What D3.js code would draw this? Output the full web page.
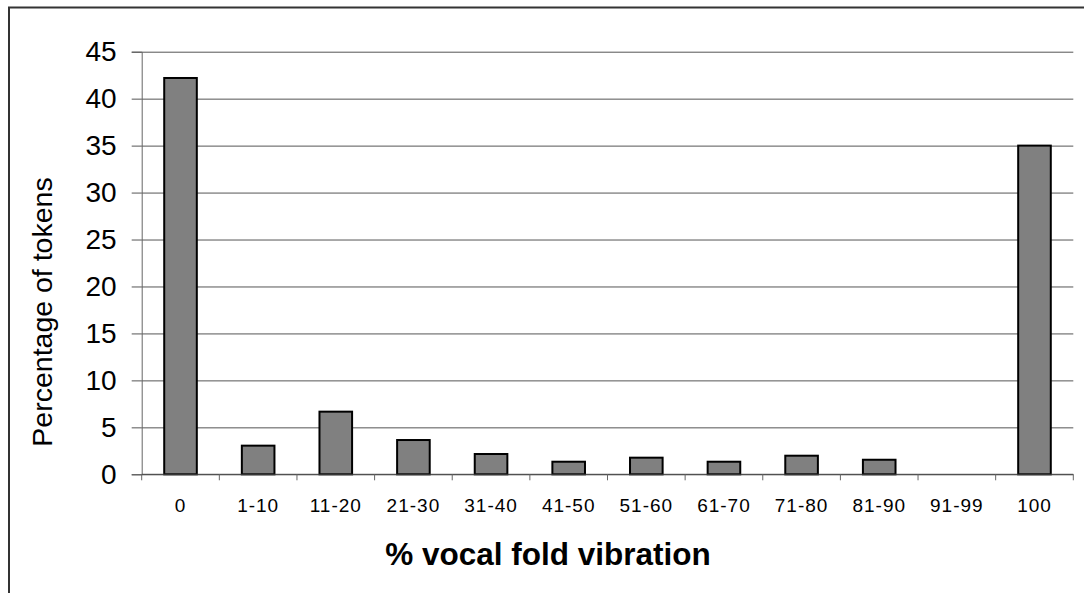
<!DOCTYPE html>
<html>
<head>
<meta charset="utf-8">
<script src="https://cdn.jsdelivr.net/npm/d3@7"></script>
<style>
  body { margin: 0; background: #fff; }
  svg { display: block; font-family: "Liberation Sans", Arial, sans-serif; }
</style>
</head>
<body>
<script>
// categories and values (percentage of tokens)
const categories = ['0', '1-10', '11-20', '21-30', '31-40', '41-50', '51-60', '61-70', '71-80', '81-90', '91-99', '100'];
const values = [42.2, 3.05, 6.67, 3.65, 2.16, 1.34, 1.77, 1.34, 1.98, 1.55, 0, 35];
const yTicks = [0, 5, 10, 15, 20, 25, 30, 35, 40, 45];

const width = 1084;
const height = 593;
const margin = ({top: 51.7, right: 10.7, bottom: 118.7, left: 141.7});

const svg = d3.select('body')
  .append('svg')
  .attr('width', width)
  .attr('height', height);

// outer chart border (runs off the right and bottom edge)
svg.append('rect')
  .attr('x', 9)
  .attr('y', 7.5)
  .attr('width', 1100)
  .attr('height', 620)
  .attr('fill', 'none')
  .attr('stroke', '#333')
  .attr('stroke-width', 2);

const xScale = d3.scaleBand()
  .domain(categories)
  .range([margin.left, width - margin.right]);

const yScale = d3.scaleLinear()
  .domain([0, 45])
  .range([height - margin.bottom, margin.top]);

// gridlines
svg.append('g')
  .attr('transform', `translate(${margin.left},0)`)
  .call(d3.axisLeft(yScale).tickValues(yTicks).tickSize(-(width - margin.right - margin.left)).tickFormat(''))
  .call(g => g.select('.domain').remove())
  .selectAll('line')
  .attr('stroke', '#555')
  .attr('stroke-width', 1);

// bars
const barW = xScale.bandwidth() * 0.42;
svg.append('g')
  .selectAll('rect')
  .data(values)
  .join('rect')
  .attr('x', (d, i) => xScale(categories[i]) + (xScale.bandwidth() - barW) / 2)
  .attr('y', d => yScale(d))
  .attr('width', barW)
  .attr('height', d => yScale(0) - yScale(d))
  .attr('fill', d => d > 0 ? '#808080' : 'none')
  .attr('stroke', d => d > 0 ? '#000' : 'none')
  .attr('stroke-width', 2);

// Y axis
svg.append('g')
  .attr('transform', `translate(${margin.left},0)`)
  .call(d3.axisLeft(yScale).tickValues(yTicks).tickSize(10).tickPadding(15))
  .call(g => g.select('.domain').attr('stroke', '#666'))
  .call(g => g.selectAll('.tick line').attr('stroke', '#555'))
  .selectAll('text')
  .attr('font-size', 28)
  .attr('font-family', '"Liberation Sans", Arial, sans-serif')
  .attr('fill', '#000');

// X axis: baseline, boundary ticks, category labels
const xAxisY = yScale(0);
svg.append('line')
  .attr('x1', margin.left).attr('x2', width - margin.right)
  .attr('y1', xAxisY).attr('y2', xAxisY)
  .attr('stroke', '#444');

const bounds = categories.map(c => xScale(c)).concat([width - margin.right]);
svg.append('g')
  .selectAll('line')
  .data(bounds)
  .join('line')
  .attr('x1', d => d).attr('x2', d => d)
  .attr('y1', xAxisY).attr('y2', xAxisY + 6)
  .attr('stroke', '#666');

svg.append('g')
  .attr('transform', `translate(0,${xAxisY})`)
  .call(d3.axisBottom(xScale).tickSize(0).tickPadding(24))
  .call(g => g.select('.domain').remove())
  .selectAll('text')
  .attr('font-size', 19)
  .attr('letter-spacing', 1)
  .attr('font-family', '"Liberation Sans", Arial, sans-serif')
  .attr('fill', '#000');

// axis titles
svg.append('text')
  .attr('x', 548)
  .attr('y', 565)
  .attr('text-anchor', 'middle')
  .attr('font-size', 31.5)
  .attr('font-weight', 'bold')
  .text('% vocal fold vibration');

svg.append('text')
  .attr('transform', 'translate(52,312) rotate(-90)')
  .attr('text-anchor', 'middle')
  .attr('font-size', 28.5)
  .text('Percentage of tokens');
</script>
</body>
</html>
